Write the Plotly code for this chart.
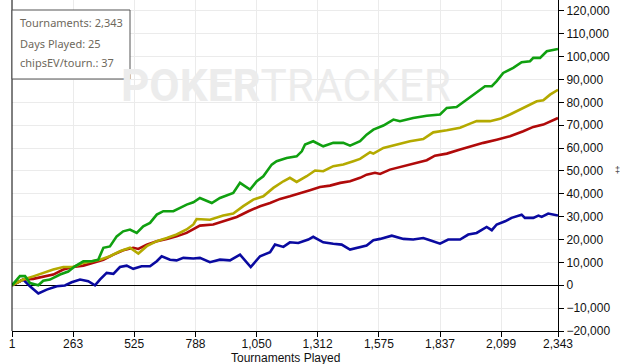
import plotly.graph_objects as go

# Tournament index (x) and cumulative chips (y, thousands)
green_t = [1, 35, 57, 78, 114, 135, 164, 207, 242, 271, 307, 343, 371, 393, 421, 450, 478, 507, 536, 564,
           593, 622, 650, 693, 722, 750, 779, 807, 858, 893, 950, 979, 1022, 1051, 1079, 1115, 1136, 1179,
           1222, 1244, 1258, 1293, 1336, 1379, 1422, 1451, 1494, 1522, 1551, 1594, 1637, 1665, 1722, 1780,
           1837, 1866, 1908, 1951, 1994, 2030, 2059, 2080, 2108, 2151, 2187, 2223, 2237, 2266, 2295, 2343]
green_k = [0, 4, 4, 1, 0, 2, 2.5, 4.7, 6, 8.3, 10.5, 10.5, 11.2, 16.4, 17, 21.4, 23.6, 24.4, 22.9, 25.8,
           27.3, 30.9, 32.4, 32.4, 33.9, 35.3, 36.3, 38.2, 36, 38.2, 40.4, 44.8, 41.9, 45.5, 47.7, 52.8, 54.3, 55.7,
           56.4, 58.6, 61.6, 63, 60.8, 62.3, 62.3, 61.1, 63, 65.9, 68.1, 69.9, 72.5, 71.8, 73.2, 74.2,
           74.7, 77.6, 78, 81.2, 84.2, 87.1, 87.1, 89.3, 92.9, 95.1, 97.6, 98, 99.5, 99.5, 102.4, 103.4]

yellow_t = [1, 49, 92, 135, 178, 221, 264, 307, 350, 378, 421, 464, 507, 543, 579, 622, 665, 707, 750, 779,
            793, 850, 907, 950, 993, 1036, 1079, 1122, 1165, 1193, 1222, 1265, 1301, 1336, 1379, 1422, 1465,
            1494, 1537, 1551, 1594, 1651, 1708, 1765, 1808, 1866, 1923, 1966, 1994, 2051, 2094, 2137, 2180,
            2223, 2252, 2280, 2309, 2343]
yellow_k = [0, 2.5, 3.9, 5.4, 6.9, 8, 8, 9.8, 10.5, 11.2, 12.7, 14.9, 16.4, 13.9, 17.1, 19.3, 20.7, 22.2, 24.4, 26.6,
            29, 28.7, 30.5, 31.4, 34.6, 37.5, 38.9, 42.6, 45.5, 47, 45.2, 47.7, 50.2, 49.9, 52.1, 52.8, 54.3,
            55.3, 58.2, 57.6, 60.1, 61.6, 63, 64, 66.9, 67.8, 68.9, 70.7, 71.8, 71.8, 72.8, 74.7, 76.9,
            79.1, 80.5, 80.9, 83.4, 85.5]

red_t = [1, 49, 92, 135, 178, 221, 264, 307, 350, 393, 436, 478, 521, 543, 579, 622, 665, 707, 750, 779,
         807, 864, 907, 965, 1015, 1065, 1108, 1151, 1193, 1236, 1279, 1322, 1365, 1409, 1451, 1494, 1522,
         1558, 1580, 1622, 1680, 1737, 1780, 1815, 1866, 1923, 1980, 2023, 2080, 2137, 2194, 2237, 2280, 2343]
red_k = [0, 2.5, 2.8, 3.9, 4.7, 6.9, 8, 8.6, 9.8, 11.2, 13.4, 15.3, 16.4, 15.9, 17.8, 19.3, 20.3, 21.4, 22.9, 24.4,
         26.1, 26.6, 28, 29.9, 32.4, 34.6, 36, 37.8, 38.9, 40.1, 41.6, 43, 43.6, 44.8, 45.5, 47, 48.4,
         49.2, 48.7, 50.6, 52.1, 53.5, 54.7, 56.7, 57.6, 59.4, 61.1, 62.3, 63.7, 65.2, 67.4, 69.3, 70.3, 73.2]

blue_t = [1, 49, 78, 114, 150, 193, 228, 257, 293, 328, 357, 378, 407, 436, 464, 493, 521, 557, 593, 622,
          643, 679, 707, 736, 779, 807, 850, 893, 936, 979, 1025, 1065, 1108, 1129, 1165, 1193, 1229, 1250,
          1272, 1293, 1336, 1379, 1415, 1451, 1494, 1522, 1551, 1580, 1630, 1680, 1722, 1765, 1794, 1837,
          1872, 1923, 1958, 1994, 2037, 2059, 2080, 2116, 2144, 2187, 2201, 2237, 2259, 2273, 2301, 2343]
blue_k = [0, 2.5, -0.4, -3.6, -1.9, -0.4, -0.1, 1.3, 2.5, 1.8, 0, 2.5, 5.4, 5, 8, 8.6, 7.2, 8.3, 8.3, 10.5,
          12.7, 11.2, 10.9, 12, 11.7, 12, 10.1, 11.2, 10.9, 13.4, 8, 12.7, 14.5, 17.8, 16.8, 18.8, 18.5, 19.3,
          20, 21.2, 18.8, 18.2, 17.8, 15.6, 16.8, 17.4, 19.7, 20.3, 21.7, 20.3, 20, 20.7, 19.7, 18.2,
          20, 20, 22.2, 22.9, 25.5, 24.1, 26.6, 28, 29.5, 30.9, 29.5, 29.5, 30.5, 29.9, 31.4, 30.5]

x_ticks = [1, 263, 525, 788, 1050, 1312, 1575, 1837, 2099, 2343]
info_lines = ["Tournaments: 2,343", "Days Played: 25", "chipsEV/tourn.: 37"]

fig = go.Figure()
series = [
    (blue_t, blue_k, "#0a0aa0"),
    (red_t, red_k, "#b00a0a"),
    (yellow_t, yellow_k, "#b4aa00"),
    (green_t, green_k, "#10a010"),
]
for t, k, c in series:
    fig.add_trace(go.Scatter(x=t, y=[v * 1000 for v in k], mode="lines",
                             line=dict(color=c, width=2.6), hoverinfo="skip"))

tickfont = dict(family="Liberation Sans, Arial", size=12, color="#111111")
fig.update_layout(
    width=622, height=364,
    margin=dict(l=12, r=64, t=0, b=33),
    paper_bgcolor="white", plot_bgcolor="white",
    showlegend=False,
    xaxis=dict(range=[1, 2343], tickvals=x_ticks, ticktext=[f"{v:,}" for v in x_ticks],
               showgrid=True, gridcolor="#ebebeb", gridwidth=1,
               showline=True, linecolor="black", linewidth=1,
               ticks="outside", ticklen=5, tickcolor="black", tickfont=tickfont,
               ticklabelstandoff=-3,
               zeroline=False, fixedrange=True, automargin=False),
    yaxis=dict(range=[-20000, 124800], side="right", tickmode="linear", tick0=-20000, dtick=10000,
               tickformat=",d", showgrid=True, gridcolor="#ebebeb", gridwidth=1,
               showline=True, linecolor="black", linewidth=1,
               ticks="outside", ticklen=5, tickcolor="black", tickfont=tickfont,
               zeroline=True, zerolinecolor="black", zerolinewidth=1, fixedrange=True,
               automargin=False),
)

# left border of plot
fig.add_shape(type="line", xref="paper", yref="paper", x0=0, x1=0, y0=0, y1=1,
              line=dict(color="black", width=1))

# watermark
fig.add_annotation(xref="paper", yref="paper", x=(286 - 12) / 546, y=(331 - 58) / 331,
                   text="<b>POKER</b>TRACKER", showarrow=False,
                   font=dict(family="Roboto", size=44, color="#ececec"))

# info box
fig.add_shape(type="rect", xref="paper", yref="paper", x0=0, x1=(130 - 12) / 546,
              y0=(331 - 79) / 331, y1=(331 - 10) / 331,
              line=dict(color="#555555", width=1), fillcolor="white", layer="above")
for txt, py in zip(info_lines, [22, 43, 62]):
    fig.add_annotation(xref="paper", yref="paper", x=(18 - 12) / 546, y=(331 - py) / 331,
                       xanchor="left", yanchor="middle", text=txt, showarrow=False,
                       font=dict(family="Noto Sans", size=11, color="#6e685c"))

# x-axis title
fig.add_annotation(xref="paper", yref="paper", x=(285 - 12) / 546, y=-(349 - 331) / 331,
                   xanchor="center", yanchor="top", text="Tournaments Played", showarrow=False,
                   font=dict(family="Liberation Sans, Arial", size=12, color="#111111"))
# clipped y-axis title mark
fig.add_annotation(xref="paper", yref="paper", x=1 + (617 - 558) / 546, y=(331 - 170) / 331,
                   xanchor="center", yanchor="middle", text="‡", showarrow=False,
                   font=dict(family="Liberation Sans, Arial", size=9, color="#333333"))

fig.write_html("out.html", config={"displayModeBar": False},
               post_script="document.body.style.margin='0';")
